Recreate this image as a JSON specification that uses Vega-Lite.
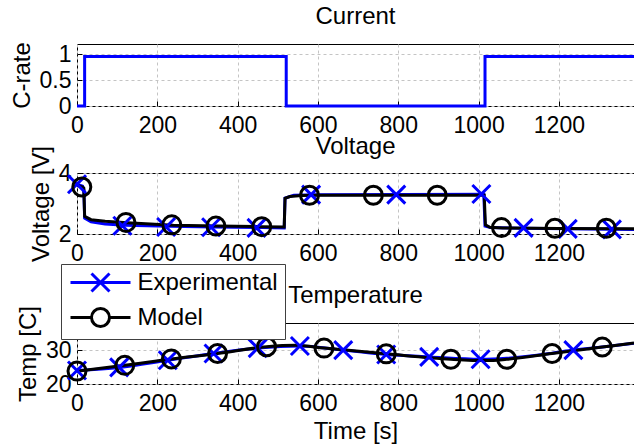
{
  "$schema": "https://vega.github.io/schema/vega-lite/v6.json",
  "background": "white",
  "padding": {"left": 9, "top": 4, "right": 0, "bottom": 0},
  "config": {
    "font": "Liberation Sans",
    "view": {"stroke": "#000000", "strokeWidth": 1},
    "axis": {"labelFontSize": 23, "labelColor": "#000000", "titleFontSize": 24, "titleFontWeight": "normal", "titleColor": "#000000", "domain": false, "grid": true, "gridColor": "#c4c4c4", "gridDash": [3, 3], "tickColor": "#000000", "tickSize": -5, "labelFlush": false, "labelOverlap": false},
    "axisX": {"labelPadding": 13, "titlePadding": 4, "format": "d"},
    "axisY": {"labelPadding": 11, "titlePadding": 5},
    "title": {"fontSize": 24, "fontWeight": "normal", "color": "#000000", "frame": "group", "anchor": "middle", "baseline": "alphabetic"}
  },
  "datasets": {
    "current": [
      {"i": 0, "t": 0, "c": 0}, {"i": 1, "t": 19, "c": 0}, {"i": 2, "t": 19, "c": 0.96}, {"i": 3, "t": 521, "c": 0.96},
      {"i": 4, "t": 521, "c": 0}, {"i": 5, "t": 1016, "c": 0}, {"i": 6, "t": 1016, "c": 0.96}, {"i": 7, "t": 1387, "c": 0.96}
    ],
    "volt": [
      {"i": 0, "t": 0, "v": 3.63, "s": "Experimental"}, {"i": 1, "t": 14, "v": 3.57, "s": "Experimental"}, {"i": 2, "t": 17, "v": 3.45, "s": "Experimental"},
      {"i": 3, "t": 19, "v": 2.52, "s": "Experimental"}, {"i": 4, "t": 35, "v": 2.4, "s": "Experimental"}, {"i": 5, "t": 70, "v": 2.33, "s": "Experimental"},
      {"i": 6, "t": 120, "v": 2.29, "s": "Experimental"}, {"i": 7, "t": 230, "v": 2.25, "s": "Experimental"}, {"i": 8, "t": 340, "v": 2.23, "s": "Experimental"},
      {"i": 9, "t": 460, "v": 2.21, "s": "Experimental"}, {"i": 10, "t": 516, "v": 2.2, "s": "Experimental"}, {"i": 11, "t": 518, "v": 3.18, "s": "Experimental"},
      {"i": 12, "t": 540, "v": 3.27, "s": "Experimental"}, {"i": 13, "t": 600, "v": 3.29, "s": "Experimental"}, {"i": 14, "t": 1013, "v": 3.3, "s": "Experimental"},
      {"i": 15, "t": 1016, "v": 2.26, "s": "Experimental"}, {"i": 16, "t": 1030, "v": 2.21, "s": "Experimental"}, {"i": 17, "t": 1110, "v": 2.19, "s": "Experimental"},
      {"i": 18, "t": 1387, "v": 2.15, "s": "Experimental"},
      {"i": 20, "t": 0, "v": 3.6, "s": "Model"}, {"i": 21, "t": 14, "v": 3.54, "s": "Model"}, {"i": 22, "t": 17, "v": 3.5, "s": "Model"},
      {"i": 23, "t": 19, "v": 2.58, "s": "Model"}, {"i": 24, "t": 35, "v": 2.47, "s": "Model"}, {"i": 25, "t": 70, "v": 2.42, "s": "Model"},
      {"i": 26, "t": 125, "v": 2.37, "s": "Model"}, {"i": 27, "t": 240, "v": 2.29, "s": "Model"}, {"i": 28, "t": 350, "v": 2.26, "s": "Model"},
      {"i": 29, "t": 460, "v": 2.24, "s": "Model"}, {"i": 30, "t": 516, "v": 2.23, "s": "Model"}, {"i": 31, "t": 518, "v": 3.17, "s": "Model"},
      {"i": 32, "t": 530, "v": 3.23, "s": "Model"}, {"i": 33, "t": 560, "v": 3.26, "s": "Model"}, {"i": 34, "t": 600, "v": 3.27, "s": "Model"},
      {"i": 35, "t": 1014, "v": 3.27, "s": "Model"}, {"i": 36, "t": 1017, "v": 2.3, "s": "Model"}, {"i": 37, "t": 1028, "v": 2.22, "s": "Model"},
      {"i": 38, "t": 1060, "v": 2.2, "s": "Model"}, {"i": 39, "t": 1200, "v": 2.18, "s": "Model"}, {"i": 40, "t": 1387, "v": 2.17, "s": "Model"}
    ],
    "voltm": [
      {"t": 0, "v": 3.63, "s": "Experimental"}, {"t": 113, "v": 2.27, "s": "Experimental"}, {"t": 222, "v": 2.23, "s": "Experimental"},
      {"t": 334, "v": 2.22, "s": "Experimental"}, {"t": 447, "v": 2.2, "s": "Experimental"}, {"t": 583, "v": 3.29, "s": "Experimental"},
      {"t": 795, "v": 3.29, "s": "Experimental"}, {"t": 1007, "v": 3.31, "s": "Experimental"}, {"t": 1112, "v": 2.2, "s": "Experimental"},
      {"t": 1222, "v": 2.17, "s": "Experimental"}, {"t": 1332, "v": 2.15, "s": "Experimental"},
      {"t": 12, "v": 3.54, "s": "Model"}, {"t": 122, "v": 2.38, "s": "Model"}, {"t": 236, "v": 2.3, "s": "Model"},
      {"t": 346, "v": 2.26, "s": "Model"}, {"t": 460, "v": 2.24, "s": "Model"}, {"t": 579, "v": 3.27, "s": "Model"},
      {"t": 738, "v": 3.27, "s": "Model"}, {"t": 897, "v": 3.27, "s": "Model"}, {"t": 1057, "v": 2.21, "s": "Model"},
      {"t": 1190, "v": 2.19, "s": "Model"}, {"t": 1318, "v": 2.19, "s": "Model"}
    ],
    "temp": [
      {"t": 0, "T": 24.0, "s": "Experimental"}, {"t": 105, "T": 24.9, "s": "Experimental"}, {"t": 226, "T": 27.0, "s": "Experimental"},
      {"t": 340, "T": 29.0, "s": "Experimental"}, {"t": 450, "T": 30.6, "s": "Experimental"}, {"t": 555, "T": 31.2, "s": "Experimental"},
      {"t": 663, "T": 30.0, "s": "Experimental"}, {"t": 770, "T": 28.7, "s": "Experimental"}, {"t": 877, "T": 28.0, "s": "Experimental"},
      {"t": 1005, "T": 27.3, "s": "Experimental"}, {"t": 1070, "T": 27.6, "s": "Experimental"}, {"t": 1183, "T": 29.1, "s": "Experimental"},
      {"t": 1236, "T": 30.0, "s": "Experimental"}, {"t": 1308, "T": 30.9, "s": "Experimental"}, {"t": 1387, "T": 32.0, "s": "Experimental"},
      {"t": 0, "T": 23.8, "s": "Model"}, {"t": 119, "T": 25.5, "s": "Model"}, {"t": 235, "T": 27.4, "s": "Model"},
      {"t": 350, "T": 29.0, "s": "Model"}, {"t": 472, "T": 31.0, "s": "Model"}, {"t": 545, "T": 31.4, "s": "Model"},
      {"t": 615, "T": 30.6, "s": "Model"}, {"t": 770, "T": 28.9, "s": "Model"}, {"t": 931, "T": 27.3, "s": "Model"},
      {"t": 1020, "T": 26.9, "s": "Model"}, {"t": 1070, "T": 27.3, "s": "Model"}, {"t": 1183, "T": 29.0, "s": "Model"},
      {"t": 1308, "T": 30.9, "s": "Model"}, {"t": 1387, "T": 32.1, "s": "Model"}
    ],
    "tempm": [
      {"t": 0, "T": 24.0, "s": "Experimental"}, {"t": 105, "T": 24.9, "s": "Experimental"}, {"t": 226, "T": 27.0, "s": "Experimental"},
      {"t": 340, "T": 29.0, "s": "Experimental"}, {"t": 450, "T": 30.6, "s": "Experimental"}, {"t": 555, "T": 31.2, "s": "Experimental"},
      {"t": 663, "T": 30.0, "s": "Experimental"}, {"t": 770, "T": 28.7, "s": "Experimental"}, {"t": 877, "T": 28.0, "s": "Experimental"},
      {"t": 1005, "T": 27.3, "s": "Experimental"}, {"t": 1236, "T": 30.0, "s": "Experimental"},
      {"t": 0, "T": 23.8, "s": "Model"}, {"t": 119, "T": 25.5, "s": "Model"}, {"t": 235, "T": 27.4, "s": "Model"},
      {"t": 350, "T": 29.0, "s": "Model"}, {"t": 472, "T": 31.0, "s": "Model"}, {"t": 615, "T": 30.6, "s": "Model"},
      {"t": 770, "T": 28.9, "s": "Model"}, {"t": 931, "T": 27.3, "s": "Model"}, {"t": 1070, "T": 27.3, "s": "Model"},
      {"t": 1183, "T": 29.0, "s": "Model"}, {"t": 1308, "T": 30.9, "s": "Model"}
    ],
    "spacer": [{"a": 0}]
  },
  "bounds": "flush",
  "spacing": 0,
  "resolve": {"scale": {"color": "independent", "shape": "independent"}},
  "vconcat": [
    {
      "width": 557,
      "height": 62,
      "title": {"text": "Current", "offset": 13},
      "data": {"name": "current"},
      "mark": {"type": "line", "color": "#0000ff", "strokeWidth": 3},
      "encoding": {
        "x": {"field": "t", "type": "quantitative", "scale": {"domain": [0, 1387], "nice": false}, "axis": {"values": [0, 200, 400, 600, 800, 1000, 1200], "title": null}},
        "y": {"field": "c", "type": "quantitative", "scale": {"domain": [0, 1.2], "nice": false}, "axis": {"values": [0, 0.5, 1], "format": ".1~f", "title": "C-rate"}},
        "order": {"field": "i"}
      }
    },
    {
      "width": 557,
      "height": 67,
      "view": {"stroke": null},
      "data": {"name": "spacer"},
      "mark": {"type": "point", "opacity": 0},
      "encoding": {}
    },
    {
      "width": 557,
      "height": 61,
      "title": {"text": "Voltage", "offset": -14},
      "layer": [
        {
          "data": {"name": "volt"},
          "mark": {"type": "line", "strokeWidth": 3},
          "encoding": {
            "x": {"field": "t", "type": "quantitative", "scale": {"domain": [0, 1387], "nice": false}, "axis": {"values": [0, 200, 400, 600, 800, 1000, 1200], "title": null}},
            "y": {"field": "v", "type": "quantitative", "scale": {"domain": [2, 4], "nice": false}, "axis": {"values": [2, 3, 4], "format": "d", "title": "Voltage [V]"}},
            "color": {"field": "s", "type": "nominal", "scale": {"domain": ["Experimental", "Model"], "range": ["#0000ff", "#000000"]}, "legend": null},
            "order": {"field": "i"}
          }
        },
        {
          "data": {"name": "voltm"},
          "transform": [{"filter": "datum.s === 'Experimental'"}],
          "mark": {"type": "point", "filled": false, "strokeWidth": 3, "size": 324, "opacity": 1, "color": "#0000ff", "shape": "M-1,-1L1,1M-1,1L1,-1"},
          "encoding": {
            "x": {"field": "t", "type": "quantitative"},
            "y": {"field": "v", "type": "quantitative"}
          }
        },
        {
          "data": {"name": "voltm"},
          "transform": [{"filter": "datum.s === 'Model'"}],
          "mark": {"type": "point", "filled": false, "strokeWidth": 3, "size": 324, "opacity": 1, "color": "#000000", "shape": "circle"},
          "encoding": {
            "x": {"field": "t", "type": "quantitative"},
            "y": {"field": "v", "type": "quantitative"}
          }
        }
      ]
    },
    {
      "width": 557,
      "height": 89,
      "view": {"stroke": null},
      "data": {"name": "spacer"},
      "mark": {"type": "point", "opacity": 0},
      "encoding": {}
    },
    {
      "width": 557,
      "height": 61,
      "title": {"text": "Temperature", "offset": -44},
      "layer": [
        {
          "data": {"name": "temp"},
          "mark": {"type": "line", "strokeWidth": 3, "interpolate": "monotone"},
          "encoding": {
            "x": {"field": "t", "type": "quantitative", "scale": {"domain": [0, 1387], "nice": false}, "axis": {"values": [0, 200, 400, 600, 800, 1000, 1200], "title": "Time [s]"}},
            "y": {"field": "T", "type": "quantitative", "scale": {"domain": [20, 38], "nice": false}, "axis": {"values": [20, 30], "format": "d", "title": "Temp [C]"}},
            "color": {
              "field": "s", "type": "nominal",
              "scale": {"domain": ["Experimental", "Model"], "range": ["#0000ff", "#000000"]},
              "legend": {
                "orient": "none", "legendX": -16, "legendY": -59, "title": null,
                "labelFontSize": 24, "labelColor": "#000000", "labelFont": "Liberation Sans",
                "symbolSize": 100, "symbolStrokeWidth": 3, "symbolOpacity": 1, "symbolOffset": 21, "labelOffset": 25,
                "padding": 6.5, "rowPadding": 5, "strokeColor": "#404040", "fillColor": "#ffffff",
                "encode": {"symbols": {"update": {
                  "fill": {"value": "transparent"},
                  "strokeWidth": {"value": 3},
                  "opacity": {"value": 1}
                }}}
              }
            }
          }
        },
        {
          "data": {"name": "tempm"},
          "transform": [{"filter": "datum.s === 'Experimental'"}],
          "mark": {"type": "point", "filled": false, "strokeWidth": 3, "size": 324, "opacity": 1, "color": "#0000ff", "shape": "M-1,-1L1,1M-1,1L1,-1"},
          "encoding": {
            "x": {"field": "t", "type": "quantitative"},
            "y": {"field": "T", "type": "quantitative"}
          }
        },
        {
          "data": {"name": "tempm"},
          "transform": [{"filter": "datum.s === 'Model'"}],
          "mark": {"type": "point", "filled": false, "strokeWidth": 3, "size": 324, "opacity": 1, "color": "#000000", "shape": "circle"},
          "encoding": {
            "x": {"field": "t", "type": "quantitative"},
            "y": {"field": "T", "type": "quantitative"}
          }
        },
        {
          "data": {"name": "tempm"},
          "mark": {"type": "point", "filled": false, "strokeWidth": 3, "size": 100, "opacity": 0},
          "encoding": {
            "x": {"field": "t", "type": "quantitative"},
            "y": {"field": "T", "type": "quantitative"},
            "color": {"field": "s", "type": "nominal"},
            "shape": {"field": "s", "type": "nominal", "scale": {"domain": ["Experimental", "Model"], "range": ["M-6,0L6,0M-1.8,-1.8L1.8,1.8M-1.8,1.8L1.8,-1.8", "M-6,0L-1.8,0M1.8,0L6,0M1.8,0A1.8,1.8,0,1,1,-1.8,0A1.8,1.8,0,1,1,1.8,0"]}}
          }
        }
      ]
    }
  ]
}
